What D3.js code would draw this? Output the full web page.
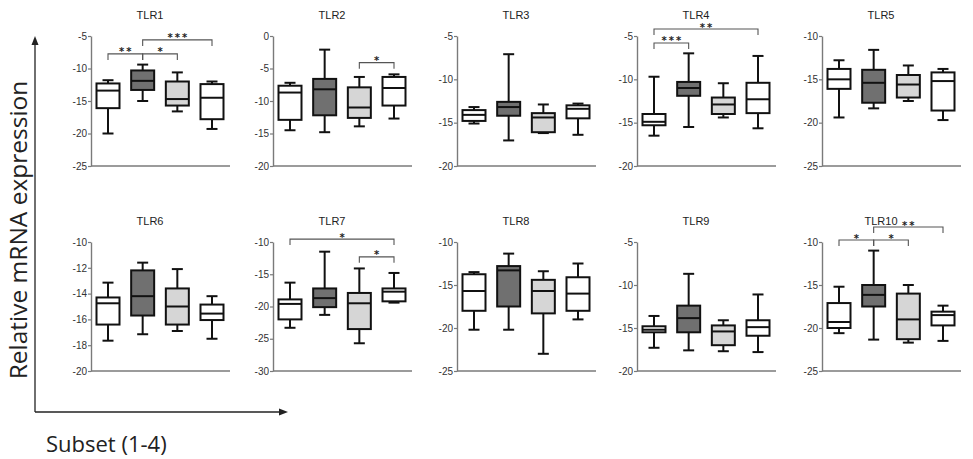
<!DOCTYPE html>
<html>
<head>
<meta charset="utf-8">
<script src="https://cdn.jsdelivr.net/npm/d3@7"></script>
<style>
  body { margin: 0; background: #fff; }
  svg { display: block; }
  .tick text { font-family: "Liberation Sans Narrow", "Arial Narrow", sans-serif; font-size: 10px; fill: #333; }
</style>
</head>
<body>
<div id="chart"></div>
<script>
// Panel names and y axis ranges
const genes = ['TLR1', 'TLR2', 'TLR3', 'TLR4', 'TLR5', 'TLR6', 'TLR7', 'TLR8', 'TLR9', 'TLR10'];
const axisMin = [-25, -20, -20, -20, -25, -20, -30, -25, -20, -25];
const axisMax = [-5, 0, -5, -5, -10, -10, -10, -10, -5, -10];
const tickStep = [5, 5, 5, 5, 5, 2, 5, 5, 5, 5];

// Box statistics, one row per gene, one value per subset (1-4)
const whiskerHigh = [
  [-11.8, -9.4, -10.6, -12.0],
  [-7.2, -2.1, -6.3, -5.9],
  [-13.2, -7.1, -12.9, -12.8],
  [-9.7, -7.0, -10.45, -7.3],
  [-12.8, -11.6, -13.4, -13.8],
  [-13.15, -11.6, -12.1, -14.2],
  [-16.3, -11.5, -14.1, -14.8],
  [-13.5, -11.35, -13.4, -12.5],
  [-13.6, -8.7, -14.1, -11.1],
  [-15.2, -11.0, -15.0, -17.4]
];
const boxTop = [
  [-12.3, -10.3, -12.0, -12.4],
  [-7.65, -6.6, -7.9, -6.3],
  [-13.55, -12.6, -13.9, -13.0],
  [-14.0, -10.3, -12.1, -10.4],
  [-13.8, -13.9, -14.5, -14.2],
  [-14.3, -12.2, -13.6, -14.85],
  [-18.9, -17.2, -17.9, -17.2],
  [-13.75, -12.8, -14.4, -14.1],
  [-14.8, -12.4, -14.7, -14.1],
  [-17.1, -15.0, -16.0, -18.1]
];
const medians = [
  [-13.4, -11.9, -14.7, -14.5],
  [-8.7, -8.2, -11.0, -8.0],
  [-14.1, -13.2, -14.4, -13.4],
  [-14.9, -11.0, -12.9, -12.3],
  [-15.0, -15.4, -15.6, -15.2],
  [-14.75, -14.2, -15.0, -15.55],
  [-19.6, -18.7, -19.5, -17.7],
  [-15.7, -13.3, -15.7, -16.0],
  [-15.2, -13.85, -15.4, -14.9],
  [-19.3, -16.15, -19.0, -18.5]
];
const boxBottom = [
  [-16.1, -13.3, -15.7, -17.8],
  [-12.9, -12.2, -12.6, -10.7],
  [-14.8, -14.2, -16.1, -14.5],
  [-15.3, -11.9, -14.0, -13.9],
  [-16.1, -17.7, -17.1, -18.6],
  [-16.4, -15.7, -16.4, -16.05],
  [-22.0, -20.1, -23.5, -19.2],
  [-18.0, -17.5, -18.3, -18.0],
  [-15.5, -15.5, -17.0, -15.9],
  [-20.0, -17.5, -21.3, -19.7]
];
const whiskerLow = [
  [-20.0, -15.0, -16.6, -19.3],
  [-14.5, -14.8, -13.9, -12.7],
  [-15.1, -17.05, -16.2, -16.4],
  [-16.5, -15.5, -14.4, -15.65],
  [-19.4, -18.35, -17.5, -19.7],
  [-17.65, -17.15, -16.9, -17.5],
  [-23.3, -21.3, -25.7, -19.4],
  [-20.2, -20.2, -23.0, -19.0],
  [-17.3, -17.6, -17.7, -17.8],
  [-20.6, -21.35, -21.7, -21.5]
];

// Significance brackets: gene index, subsets compared, level (data units), stars
const sigGene = [0, 0, 0, 1, 3, 3, 6, 6, 9, 9, 9];
const sigFrom = [1, 2, 2, 3, 1, 1, 1, 3, 1, 2, 2];
const sigTo = [2, 3, 4, 4, 2, 4, 4, 4, 2, 3, 4];
const sigLevel = [-7.75, -7.75, -5.6, -4.1, -5.8, -4.2, -9.55, -12.3, -9.77, -9.77, -8.26];
const sigLabel = ['**', '*', '***', '*', '***', '**', '*', '*', '*', '*', '**'];

const subsets = [1, 2, 3, 4];
const subsetFill = ['#ffffff', '#707070', '#d6d6d6', '#ffffff'];

// Layout
const width = 973, height = 459;
const panelX = [91, 273, 457, 637, 822];
const rowTop = [36, 242], rowBottom = [166, 371];
const panelWidth = 139;
const boxWidth = 23, capWidth = 11;

const svg = d3.select('#chart')
  .append('svg')
  .attr('width', width)
  .attr('height', height);

genes.forEach((gene, i) => {
  const row = Math.floor(i / 5), col = i % 5;
  const x0 = panelX[col];

  const y = d3.scaleLinear()
    .domain([axisMin[i], axisMax[i]])
    .range([rowBottom[row], rowTop[row]]);
  const x = d3.scalePoint()
    .domain(subsets)
    .range([x0 + 17, x0 + 121]);

  const g = svg.append('g');

  // Title
  g.append('text')
    .attr('x', x0 + 59)
    .attr('y', rowTop[row] - 17.5)
    .attr('text-anchor', 'middle')
    .style('font-family', '"Liberation Sans Narrow", "Arial Narrow", sans-serif')
    .style('font-size', '11px')
    .style('fill', '#222')
    .text(gene);

  // Y axis
  const ticks = d3.range(axisMin[i], axisMax[i] + tickStep[i] / 2, tickStep[i]);
  const axis = g.append('g')
    .attr('transform', `translate(${x0},0)`)
    .call(d3.axisLeft(y).tickValues(ticks).tickSize(3).tickSizeOuter(0).tickPadding(1).tickFormat(d => String(d)));
  axis.select('.domain').attr('stroke', '#7a7a7a').attr('stroke-width', 1.4);
  axis.selectAll('.tick line').attr('stroke', '#7a7a7a').attr('stroke-width', 1.2);

  // Baseline
  g.append('line')
    .attr('x1', x0).attr('x2', x0 + panelWidth)
    .attr('y1', y(axisMin[i])).attr('y2', y(axisMin[i]))
    .attr('stroke', '#7a7a7a')
    .attr('stroke-width', 1.4);

  // Boxes
  const boxes = g.selectAll('.box')
    .data(subsets)
    .join('g')
    .attr('class', 'box');

  boxes.append('line')
    .attr('x1', d => x(d)).attr('x2', d => x(d))
    .attr('y1', (d, j) => y(whiskerHigh[i][j]))
    .attr('y2', (d, j) => y(whiskerLow[i][j]))
    .attr('stroke', '#111').attr('stroke-width', 2);

  boxes.append('line')
    .attr('x1', d => x(d) - capWidth / 2).attr('x2', d => x(d) + capWidth / 2)
    .attr('y1', (d, j) => y(whiskerHigh[i][j]))
    .attr('y2', (d, j) => y(whiskerHigh[i][j]))
    .attr('stroke', '#111').attr('stroke-width', 2);

  boxes.append('line')
    .attr('x1', d => x(d) - capWidth / 2).attr('x2', d => x(d) + capWidth / 2)
    .attr('y1', (d, j) => y(whiskerLow[i][j]))
    .attr('y2', (d, j) => y(whiskerLow[i][j]))
    .attr('stroke', '#111').attr('stroke-width', 2);

  boxes.append('rect')
    .attr('x', d => x(d) - boxWidth / 2)
    .attr('width', boxWidth)
    .attr('y', (d, j) => y(boxTop[i][j]))
    .attr('height', (d, j) => y(boxBottom[i][j]) - y(boxTop[i][j]))
    .attr('fill', (d, j) => subsetFill[j])
    .attr('stroke', '#111').attr('stroke-width', 2);

  boxes.append('line')
    .attr('x1', d => x(d) - boxWidth / 2).attr('x2', d => x(d) + boxWidth / 2)
    .attr('y1', (d, j) => y(medians[i][j]))
    .attr('y2', (d, j) => y(medians[i][j]))
    .attr('stroke', '#111').attr('stroke-width', 2);

  // Significance brackets for this gene
  sigGene.forEach((gi, k) => {
    if (gi !== i) return;
    const xa = x(sigFrom[k]), xb = x(sigTo[k]), yl = y(sigLevel[k]);
    g.append('path')
      .attr('d', `M${xa},${yl + 6}V${yl}H${xb}V${yl + 6}`)
      .attr('fill', 'none')
      .attr('stroke', '#555')
      .attr('stroke-width', 1.1);
    g.append('text')
      .attr('x', (xa + xb) / 2 + 1)
      .attr('y', yl + 1.5)
      .attr('text-anchor', 'middle')
      .style('font-family', '"DejaVu Sans", sans-serif')
      .style('font-size', '10px')
      .style('font-weight', 'bold')
      .style('letter-spacing', '2px')
      .style('fill', '#222')
      .text(sigLabel[k]);
  });
});

// Overall axes with arrows
const arrowX = 35, arrowY = 412;
svg.append('line')
  .attr('x1', arrowX).attr('x2', arrowX)
  .attr('y1', arrowY).attr('y2', 44)
  .attr('stroke', '#222').attr('stroke-width', 1.3);
svg.append('path')
  .attr('d', `M${arrowX},36L${arrowX - 3.5},45L${arrowX + 3.5},45Z`)
  .attr('fill', '#222');
svg.append('line')
  .attr('x1', arrowX).attr('x2', 280)
  .attr('y1', arrowY).attr('y2', arrowY)
  .attr('stroke', '#222').attr('stroke-width', 1.3);
svg.append('path')
  .attr('d', `M288,${arrowY}L279,${arrowY - 3.5}L279,${arrowY + 3.5}Z`)
  .attr('fill', '#222');

svg.append('text')
  .attr('transform', 'translate(26.5,230) rotate(-90)')
  .attr('text-anchor', 'middle')
  .style('font-family', '"Open Sans", sans-serif')
  .style('font-size', '24.5px')
  .style('fill', '#222')
  .text('Relative mRNA expression');

svg.append('text')
  .attr('x', 46)
  .attr('y', 452)
  .style('font-family', '"Open Sans", sans-serif')
  .style('font-size', '22px')
  .style('fill', '#222')
  .text('Subset (1-4)');
</script>
</body>
</html>
